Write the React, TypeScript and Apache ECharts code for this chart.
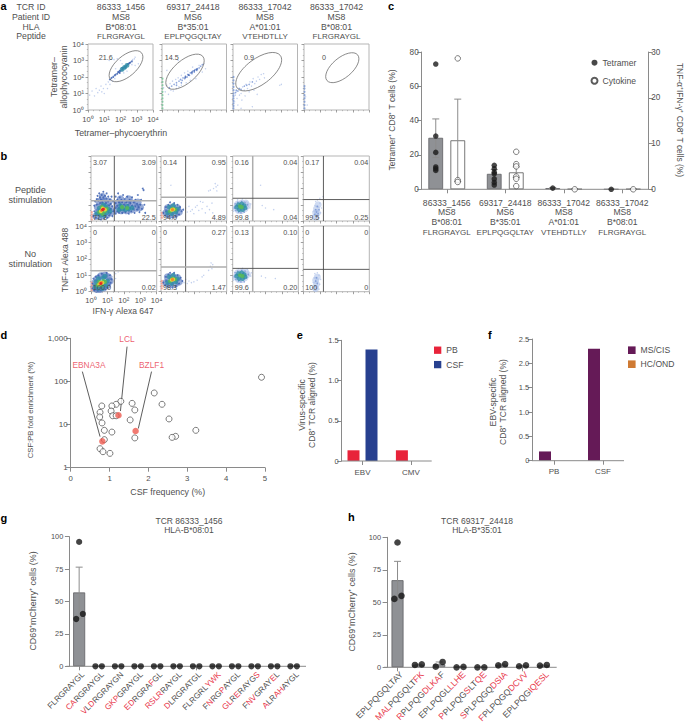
import React, { useEffect, useRef } from "react";
import * as echarts from "echarts";

type P = [number, number];
const FONT = '"Liberation Sans", Arial, Helvetica, sans-serif';
const INK = "#4f4f4f";
const AXIS = "#8a8a8a";
const RED = "#e8364a";

// ---------- panel a / b: flow cytometry (values are log10 units, read by eye)
const logTickLabels = ["10⁰", "10¹", "10²", "10³", "10⁴"];
const headerRows = ["TCR ID", "Patient ID", "HLA", "Peptide"];
const tcrIds = ["86333_1456", "69317_24418", "86333_17042", "86333_17042"];
const patientIds = ["MS8", "MS6", "MS8", "MS8"];
const hlaTypes = ["B*08:01", "B*35:01", "A*01:01", "B*08:01"];
const peptides = ["FLRGRAYGL", "EPLPQGQLTAY", "VTEHDTLLY", "FLRGRAYGL"];
const tetramerGatePct = ["21.6", "14.5", "0.9", "0"];

const a1Light: P[] = [[.1,.9],[.25,1.15],[.4,.85],[.5,1.3],[.6,1.05],[.7,1.2],[.8,1.45],[.85,1.1],[.95,1.3],[1,1],[1.1,1.55],[1.2,1.3],[1.25,1.7],[1.35,1.55],[1.4,1.85],[1.5,1.75],[1.55,2.05],[1.65,1.9],[1.3,3],[1.6,3.05],[1.8,3.1],[2,3],[1.7,2.5],[2.1,2.8],[2.85,3.1],[2.9,3.2],[2.7,2.75],[2.4,2.35],[2.9,2.7],[3.1,2.8],[2.75,3.05],[2.2,2.25]];
const a1Blue: P[] = [[1.35,1.85],[1.45,1.95],[1.55,2],[1.65,2.1],[1.7,2.15],[1.8,2.2],[1.85,2.3],[1.9,2.3],[1.95,2.38],[2,2.37],[2.1,2.45],[2.15,2.52],[2.2,2.55],[2.25,2.62],[2.3,2.63],[2.35,2.65],[2.4,2.72],[2.45,2.78],[2.5,2.8],[2.55,2.85],[2.6,2.88],[2.7,2.95],[2.1,2.55],[2.3,2.55],[1.95,2.25]];
const a1Teal: P[] = [[2.1,2.46],[2.25,2.58],[2.4,2.7]];
const a2Edge: P[] = [[.03,.1],[.03,.3],[.03,.5],[.03,.7],[.03,.9],[.03,1.1],[.03,1.3],[.03,1.5],[.03,1.7],[.03,1.9]];
const a2Light: P[] = [[.1,1.35],[.2,1.1],[.3,1.5],[.4,.95],[.5,1.6],[.55,1.2],[.65,1.75],[.7,1.15],[.85,1.85],[.9,1.3],[1,1.95],[1.05,1.4],[1.2,2.1],[1.2,1.5],[1.4,2.25],[1.5,1.65],[1.6,2.35],[1.75,1.8],[1.9,2.6],[2.1,1.9],[2.3,2.7],[2.5,2.3],[2.6,2.8],[2.7,2.5],[1,3],[.3,2.4]];
const a2Fine: P[] = [[.45,1.35],[.6,1.45],[.75,1.55],[.9,1.65],[1.05,1.75],[1.15,1.85],[1.25,1.8],[1.3,1.95],[1.4,1.9],[1.45,2.05],[1.55,2],[1.6,2.15],[1.7,2.1],[1.75,2.25],[1.85,2.2],[1.9,2.35],[2,2.3],[2.05,2.45],[2.15,2.4],[2.2,2.5],[2.3,2.55],[2.4,2.65],[2.5,2.75],[1.2,1.65],[.9,1.5]];
const a2Blue: P[] = [[1.45,1.98],[1.65,2.12],[1.85,2.28],[2,2.38],[2.15,2.46]];
const a3Edge: P[] = [[.03,.1],[.03,.25],[.03,.4],[.03,.55],[.03,.7],[.03,.85],[.03,1],[.03,1.2],[.03,1.4],[.03,1.6],[.03,1.8],[.03,2]];
const a3Light: P[] = [[.1,.5],[.15,.9],[.2,1.1],[.25,.7],[.3,.3],[.35,1.3],[.4,.9],[.5,1],[.55,.6],[.6,1.4],[.7,1.2],[.75,.85],[.8,1.55],[.9,1.3],[1,1.1],[1.05,1.7],[1.15,1.45],[1.25,1.9],[1.35,1.6],[1.45,1.75],[1.55,2],[1.65,1.85],[1.75,2.15],[1.9,2.2],[1.95,1.95],[2.9,1.5],[3,1.55],[.5,.1],[1.2,.2],[1.5,.95],[1.3,1.2]];
const a3Fine: P[] = [[.2,1.2],[.3,1.15],[.4,1.3],[.5,1.25],[.7,1.45],[.85,1.5],[1,1.55],[1.2,1.7],[.15,1.05]];
const a4Edge: P[] = [[.03,.1],[.03,.3],[.03,.5],[.03,.7],[.03,.9],[.03,1.1],[.03,1.3],[.03,1.45]];
const a4Light: P[] = [[.2,.3],[.1,.8]];

const b11Edge: P[] = [[.05,.1],[.05,.25],[.05,.4],[.05,.55]];
const b11Haze: P[] = [[.3,.3],[.45,.55],[.7,.35],[1,.4],[1.25,.55],[.4,.85],[.75,.85],[1.1,.85],[.5,1.2],[.8,1.2],[1.1,1.2],[.7,1.5],[1.55,.7],[1.85,.65],[2.15,.65],[2.45,.7],[2.75,.8],[3,.85],[1.6,1.05],[1.9,1.05],[2.2,1.05],[2.5,1.1],[2.85,1.15],[1.8,1.35],[2.3,1.35]];
const b11Blue: P[] = [[.15,.3],[.2,.6],[.2,.95],[.25,1.2],[.3,.2],[.35,1],[.35,1.35],[.4,1.55],[.45,.15],[.45,1.25],[.5,1.7],[.55,1.1],[.55,1.45],[.6,.1],[.6,1.3],[.65,1.6],[.7,1.15],[.75,1.45],[.75,1.8],[.8,.15],[.85,1.25],[.85,1.55],[.9,1.1],[.95,1.4],[.95,1.7],[1,.2],[1.05,1.2],[1.05,1.5],[1.1,.35],[1.1,.95],[1.15,1.3],[1.2,.5],[1.2,.75],[1.2,1.05],[1.25,1.5],[1.3,.3],[1.3,.9],[1.35,.6],[1.35,1.2],[1.5,.45],[1.5,.8],[1.5,1.1],[1.5,1.5],[1.6,.6],[1.6,.95],[1.6,1.3],[1.65,1.7],[1.7,.5],[1.7,.8],[1.7,1.15],[1.75,1.45],[1.8,.65],[1.8,1],[1.85,1.3],[1.9,.5],[1.9,.85],[1.9,1.15],[1.95,1.6],[2,.7],[2,1],[2.05,1.35],[2.1,.55],[2.1,.85],[2.15,1.15],[2.2,1.5],[2.25,.7],[2.25,1],[2.3,.45],[2.35,1.3],[2.4,.8],[2.4,1.1],[2.45,.6],[2.5,.95],[2.5,1.45],[2.55,.75],[2.6,1.15],[2.65,.5],[2.7,.9],[2.7,1.3],[2.8,.7],[2.8,1.05],[2.85,1.6],[2.9,.85],[2.95,.55],[3,1],[3.05,1.3],[3.1,.75],[3.2,1.9],[3.25,1],[3.3,.5],[3.15,2]];
const b11Teal: P[] = [[.35,.45],[.5,.8],[.6,.35],[.75,1],[.95,.5],[1.05,.75],[.55,.6],[.8,.35],[.9,.9],[1.15,.6],[1.7,.7],[1.9,.75],[2.1,.7],[2.3,.75],[2.5,.8],[1.8,.95],[2.2,.9]];
const b11Green: P[] = [[.5,.55],[.65,.85],[.85,.6],[.95,.75],[.7,.45],[2.2,.8],[1.9,.85]];
const b11Yellow: P[] = [[.6,.6],[.72,.78],[.85,.7]];
const b11Orange: P[] = [[.65,.65],[.78,.75]];
const b11Red: P[] = [[.7,.7],[.75,.72]];

const b12Edge: P[] = [[.05,.2],[.05,.35],[.05,.5]];
const b12Haze: P[] = [[.3,.5],[.55,.4],[.85,.4],[1.1,.55],[.4,.8],[.7,.85],[1,.8]];
const b12Light: P[] = [[1.5,.8],[1.6,.55],[1.7,.9],[1.8,.6],[1.9,.7],[2,.45],[2.1,.85],[2.2,.95],[2.3,.65],[2.4,1.2],[2.5,.75],[2.55,1.15],[2.7,.5],[2.8,.9],[2.95,.7],[3.1,1.1],[3.15,.5],[2.9,1.85],[3,1.9],[3.2,2],[3.3,2.3],[3.35,2.1],[3.4,1.85],[3.45,2.2],[.6,2.2]];
const b12Blue: P[] = [[.15,.5],[.25,.35],[.3,.85],[.4,.25],[.45,1],[.55,1.15],[.7,.2],[.8,1.1],[.9,.3],[1,1],[1.1,.4],[1.15,.85],[1.25,.6],[1.35,.7],[.3,.6]];
const b12Teal: P[] = [[.4,.5],[.5,.85],[.65,.45],[.75,.95],[.9,.55],[1,.75]];
const b12Green: P[] = [[.55,.6],[.7,.75],[.85,.7]];
const b12Yellow: P[] = [[.65,.68],[.75,.72]];
const b12Orange: P[] = [[.7,.7]];

const b13Pale: P[] = [[.2,.8],[.35,.65],[.55,.65],[.75,.75],[.9,.95],[.3,1.05],[.55,1.1],[.8,1.1]];
const b13Light: P[] = [[.05,.6],[.95,.9],[1.05,.8],[1.1,1.05],[.85,1.2],[.3,1.3],[.6,1.35],[1.7,2.2],[1.8,.95],[2,.8],[2.5,.7]];
const b13Fine: P[] = [[.1,.8],[.15,1.05],[.2,.65],[.3,1.15],[.35,.55],[.5,.5],[.55,1.2],[.7,.55],[.75,1.15],[.85,.75],[.9,1],[.15,.9]];
const b13Teal: P[] = [[.25,.85],[.35,1],[.4,.7],[.6,.7],[.7,.95],[.55,1.05],[.75,.8]];
const b13Green: P[] = [[.45,.9],[.55,.85]];

const b14Pale: P[] = [[.75,.25],[.85,.5],[.8,.75],[.9,1],[.75,.5]];
const b14Light: P[] = [[.55,.3],[.6,.6],[.65,.15],[.7,.95],[.75,1.2],[.95,.2],[1.05,.5],[1.1,.8],[1,1.1],[1,1.4],[.85,1.3],[1.2,1.5],[.7,.1]];
const b14Fine: P[] = [[.7,.4],[.75,.7],[.8,.25],[.85,.9],[.9,.45],[.95,.7],[.8,.55]];

const b21Edge: P[] = [[.05,.1],[.05,.25],[.05,.4],[.05,.55]];
const b21Haze: P[] = [[.2,.25],[.35,.15],[.55,.15],[.8,.25],[1,.4],[1.15,.65],[.25,.55],[.4,.8],[.6,.95],[.85,1],[1.05,.9]];
const b21Light: P[] = [[1.4,1.2],[1.5,1.1],[1.65,1.2],[1.3,.9],[1.5,.8]];
const b21Blue: P[] = [[.1,.2],[.1,.5],[.15,.8],[.2,.1],[.3,.9],[.4,.08],[.45,1],[.65,1.1],[.6,.08],[.85,.15],[1,.25],[1.1,.4],[1.2,.55],[1.25,.75],[1.15,1],[.95,1.15]];
const b21Teal: P[] = [[.25,.3],[.3,.6],[.45,.2],[.45,.8],[.7,.2],[.75,.85],[.9,.4],[1,.65],[.85,.95]];
const b21Green: P[] = [[.4,.4],[.5,.6],[.65,.4],[.75,.65],[.85,.6]];
const b21Yellow: P[] = [[.5,.45],[.6,.55],[.7,.55]];
const b21Orange: P[] = [[.55,.5],[.65,.55]];
const b21Red: P[] = [[.6,.5]];

const b22Edge: P[] = [[.05,.2],[.05,.35],[.05,.5],[.05,.65]];
const b22Haze: P[] = [[.3,.55],[.55,.45],[.85,.45],[1.1,.6],[.4,.9],[.7,.9],[1,.85]];
const b22Light: P[] = [[1.4,.55],[1.5,.75],[1.6,.5],[1.7,.65],[1.85,.55],[2,.6],[2.2,.7],[2.5,.9],[2.6,1],[2.9,1.3],[3,1.55],[3.05,1.75],[3.1,1.4],[3.15,1.65]];
const b22Blue: P[] = [[.15,.55],[.25,.4],[.3,.9],[.4,.3],[.45,1.05],[.55,1.15],[.7,.25],[.8,1.15],[.9,.35],[1,1],[1.1,.5],[1.2,.85],[1.3,.65],[.3,.65]];
const b22Teal: P[] = [[.4,.55],[.5,.9],[.65,.5],[.75,1],[.9,.6],[1,.8]];
const b22Green: P[] = [[.55,.65],[.7,.8],[.85,.75]];
const b22Yellow: P[] = [[.65,.72],[.75,.75]];
const b22Orange: P[] = [[.7,.74]];

const b23Pale: P[] = [[.2,.9],[.35,.75],[.55,.75],[.75,.85],[.9,1.05],[.3,1.15],[.55,1.2],[.8,1.2]];
const b23Light: P[] = [[.05,.7],[1,1],[1.1,.95],[1.15,1.15],[.9,1.35],[.35,1.4],[.6,1.42],[1.75,.95],[2,.85],[2.6,.8]];
const b23Fine: P[] = [[.1,.9],[.15,1.15],[.2,.75],[.3,1.25],[.35,.65],[.5,.6],[.55,1.3],[.7,.6],[.75,1.25],[.85,.85],[.95,1.05],[.15,1]];
const b23Teal: P[] = [[.25,.95],[.35,1.1],[.4,.8],[.6,.8],[.7,1.05],[.55,1.15],[.75,.9]];
const b23Green: P[] = [[.45,1],[.6,.95]];

const b24Pale: P[] = [[.75,.2],[.8,.45],[.75,.7],[.85,.9]];
const b24Light: P[] = [[.55,.25],[.6,.55],[.65,.1],[.65,.85],[.7,1.1],[.95,.15],[1,.45],[1.05,.75],[.95,1],[.85,1.15],[.75,.05]];
const b24Fine: P[] = [[.7,.35],[.75,.65],[.8,.2],[.85,.5],[.8,.85]];

const quadrantPeptide = [["3.07","3.09","71.3","22.5"],["0.14","0.95","94.0","4.89"],["0.16","0.04","99.8","0.04"],["0.17","0.04","99.5","0.25"]];
const quadrantNoPeptide = [["0","0","100.0","0.02"],["0","0.27","98.3","1.47"],["0.13","0.10","99.6","0.20"],["0","0","100","0"]];
const gateXPeptide = [1.42, 1.5, 1.22, 1.22];
const gateYPeptide = [1.24, 1.46, 1.4, 1.32];
const gateXNoPeptide = [1.42, 1.5, 1.22, 1.22];
const gateYNoPeptide = [1.28, 1.5, 1.42, 1.36];

// ---------- panel c
const cCategories = tcrIds.map((id, i) => [id, patientIds[i], hlaTypes[i], peptides[i]].join("\n"));
const cTetramerMean = [30, 9, 0.7, 0];
const cCytokineMean = [10.7, 3.7, 0.05, 0.05];
const cTetramerPoints = [[73, 31, 21.5, 13, 12, 11], [14, 12, 10, 9, 6, 4, 2.5], [0.7], [0]];
const cCytokinePoints = [[28.6, 2, 1.6], [8.2, 5.5, 5, 2.8, 2.3, 0.7], [0], [0]];
const cTetramerError: [number, number][] = [[18.5, 41], [6.5, 11.5], [0.4, 1], [0, 0]];
const cCytokineError: [number, number][] = [[1.7, 19.7], [2.6, 4.9], [0, 0.1], [0, 0.1]];

// ---------- panel d
const dOpen: P[] = [[4.91,125],[2.15,54],[2.35,29.5],[2.53,13.5],[3.22,7.35],[2.7,5.33],[2.61,5.05],[1.65,4.9],[1.53,12.8],[1.65,21.8],[1.58,31],[1.29,34.6],[1.17,29.5],[1.06,27],[1.04,20.6],[1.08,16],[1.17,16],[.8,27],[.755,19.2],[.746,15],[.806,10.9],[.866,7.35],[1.06,6.7],[.866,4.47],[.755,2.76],[.83,2.35],[1.01,2.15]];
const dRed: P[] = [[1.23,16.4],[1.67,7.1],[.815,4.08]];
const dCalloutNames = ["LCL", "EBNA3A", "BZLF1"];
const dCalloutAnchors: P[] = [[1.45,977],[.47,240],[2.08,240]];
const dCalloutLines: [P, P][] = [[[1.45,641],[1.28,20.6]],[[.3,169],[.755,5.25]],[[2.08,169],[1.74,8.1]]];

// ---------- panels e / f
const eCategories = ["EBV", "CMV"];
const ePB = [0.133, 0.133];
const eCSF = [1.385, 0];
const fCategories = ["PB", "CSF"];
const fMS = [0.19, 2.3];
const fHC = [0, 0];

// ---------- panels g / h
const gLabels = ["FLRGRAYGL","[CA]RGRAYGL","[V]L[D]RGRAYGN","[GKP]GRAYGL","[ED]RGRA[F]GL","[RSLR]RAYGL","[D]LRGRATGL","FLRGRL[YWK]","F[N]RG[P]AYGL","[GL]R[E]RAYG[S]","F[NV]GRAY[E]L","[A]LR[AH]AYGL"];
const gMeans = [57, 0, 0, 0, 0, 0, 0, 0, 0, 0, 0, 0];
const gPoints = [[36.5,96,40.4],[0,0],[0,0],[0,0],[0,0],[0,0],[0,0],[0,0],[0,0],[0,0],[0,0],[0,0]];
const gError: [number, number][] = [[37,76.5],[0,0],[0,0],[0,0],[0,0],[0,0],[0,0],[0,0],[0,0],[0,0],[0,0],[0,0]];
const hLabels = ["EPLPQGQLTAY","[MAL]PQGQLT[FK]","[R]PLPQG[DLKA]F","EPLPQGL[LLHE]","[P]PLPQG[S]LT[QE]","[S]PLPQGQ[DSIA]","[F]PLPQGQ[DCVV]","EPLPQG[IQESL]"];
const hMeans = [67, 2, 2.3, 0.2, 0, 2, 1.2, 1.5];
const hPoints = [[52.6,96,55],[1.8,2.3],[0.5,4.1],[0,0.3],[0,0],[1.5,2.5],[0.8,1.5],[1.3,1.8]];
const hError: [number, number][] = [[52,81.5],[1.7,2.4],[0.5,4.1],[0,0.3],[0,0],[1.5,2.5],[0.8,1.5],[1.3,1.8]];

// ---------- density layers (drawn in this order)
const layerStyle: Record<string, { color: string; size: number; opacity: number }> = {
  pale: { color: "#a8bde8", size: 7, opacity: .55 },
  haze: { color: "#4f72bd", size: 7.5, opacity: .6 },
  edgeGreen: { color: "#7cc49a", size: 2, opacity: .9 },
  edgeBlue: { color: "#7f9bd3", size: 2, opacity: .9 },
  edgeRed: { color: "#f09a8c", size: 2, opacity: .9 },
  light: { color: "#b3c4ea", size: 1.4, opacity: .8 },
  fine: { color: "#7a97d6", size: 1.6, opacity: .85 },
  blue: { color: "#3d62b2", size: 1.9, opacity: .85 },
  teal: { color: "#2f8fa6", size: 4.8, opacity: .8 },
  green: { color: "#55b85a", size: 4.2, opacity: .9 },
  yellow: { color: "#e6dc3c", size: 3.8, opacity: .95 },
  orange: { color: "#f0882c", size: 3.3, opacity: .95 },
  red: { color: "#e3262a", size: 2.8, opacity: 1 },
};
type Layers = Record<string, P[]>;
const aLayers: Layers[] = [
  { light: a1Light, blue: a1Blue, teal: a1Teal },
  { edgeGreen: a2Edge, light: a2Light, fine: a2Fine, blue: a2Blue },
  { edgeBlue: a3Edge, light: a3Light, fine: a3Fine },
  { edgeBlue: a4Edge, light: a4Light },
];
const bLayersTop: Layers[] = [
  { haze: b11Haze, edgeRed: b11Edge, blue: b11Blue, teal: b11Teal, green: b11Green, yellow: b11Yellow, orange: b11Orange, red: b11Red },
  { haze: b12Haze, edgeRed: b12Edge, light: b12Light, blue: b12Blue, teal: b12Teal, green: b12Green, yellow: b12Yellow, orange: b12Orange },
  { pale: b13Pale, light: b13Light, fine: b13Fine, teal: b13Teal, green: b13Green },
  { pale: b14Pale, light: b14Light, fine: b14Fine },
];
const bLayersBottom: Layers[] = [
  { haze: b21Haze, edgeRed: b21Edge, light: b21Light, blue: b21Blue, teal: b21Teal, green: b21Green, yellow: b21Yellow, orange: b21Orange, red: b21Red },
  { haze: b22Haze, edgeRed: b22Edge, light: b22Light, blue: b22Blue, teal: b22Teal, green: b22Green, yellow: b22Yellow, orange: b22Orange },
  { pale: b23Pale, light: b23Light, fine: b23Fine, teal: b23Teal, green: b23Green },
  { pale: b24Pale, light: b24Light, fine: b24Fine },
];

function buildOption() {
  const grid: any[] = [], xAxis: any[] = [], yAxis: any[] = [], series: any[] = [], elements: any[] = [];

  const T = (text: string, x: number, y: number, o: any = {}) => elements.push({
    type: "text", x, y, rotation: o.rot || 0, silent: true, z: 50,
    style: { text, fill: o.color || INK, fontSize: o.size || 8.5, fontFamily: FONT, fontWeight: o.weight || "normal", textAlign: o.align || "center", textVerticalAlign: "middle" },
  });
  const HLine = (x1: number, x2: number, y: number) => elements.push({
    type: "line", silent: true, z: 5, shape: { x1, x2, y1: y, y2: y }, style: { stroke: AXIS, lineWidth: 1 },
  });
  const addGrid = (l: number, t: number, w: number, h: number, extra: any = {}) => {
    grid.push({ left: l, top: t, width: w, height: h, containLabel: false, ...extra });
    return grid.length - 1;
  };
  const valueAxisY = (g: number, min: number, max: number, interval: number, extra: any = {}) => {
    yAxis.push({
      type: "value", gridIndex: g, min, max, interval,
      axisLine: { show: true, lineStyle: { color: AXIS, width: 1 } },
      axisTick: { show: true, length: 4.5, lineStyle: { color: AXIS } },
      axisLabel: { fontSize: 8.2, color: INK, fontFamily: FONT, margin: 3 },
      splitLine: { show: false }, ...extra,
    });
    return yAxis.length - 1;
  };
  const catAxisX = (g: number, data: string[], extra: any = {}) => {
    xAxis.push({
      type: "category", gridIndex: g, data,
      axisLine: { show: false },
      axisTick: { show: true, alignWithLabel: true, length: 4, lineStyle: { color: AXIS } },
      axisLabel: { fontSize: 8, color: INK, fontFamily: FONT, interval: 0, margin: 7 },
      splitLine: { show: false }, ...extra,
    });
    return xAxis.length - 1;
  };
  const hiddenX = (g: number, max: number) => {
    xAxis.push({ type: "value", gridIndex: g, min: 0, max, show: false, splitLine: { show: false } });
    return xAxis.length - 1;
  };
  const errorSeries = (xi: number, yi: number, rows: number[][], color = "#8c8c8c") => series.push({
    type: "custom", xAxisIndex: xi, yAxisIndex: yi, z: 4, silent: true, data: rows, encode: { x: 0, y: [1, 2] },
    renderItem: (_p: any, api: any) => {
      const x = api.value(0);
      const lo = api.coord([x, api.value(1)]);
      const hi = api.coord([x, api.value(2)]);
      const st = { stroke: color, lineWidth: 1 };
      const cap = (p: number[]) => ({ type: "line", shape: { x1: p[0] - 3.5, y1: p[1], x2: p[0] + 3.5, y2: p[1] }, style: st });
      return { type: "group", children: [{ type: "line", shape: { x1: lo[0], y1: lo[1], x2: hi[0], y2: hi[1] }, style: st }, cap(lo), cap(hi)] };
    },
  });

  // ---- flow plots
  const flowPlot = (l: number, t: number, w: number, h: number, layers: Layers, showX: boolean, showY: boolean) => {
    const g = addGrid(l, t, w, h, { show: true, borderColor: "#b5b5b5", borderWidth: 1, backgroundColor: "transparent" });
    const axisCommon = {
      type: "value", gridIndex: g, min: 0, max: 4, interval: 1,
      axisLine: { show: false },
      axisTick: { show: true, length: 2.5, lineStyle: { color: "#777", width: .7 } },
      minorTick: { show: true, splitNumber: 3, length: 1.2, lineStyle: { color: "#999", width: .6 } },
      splitLine: { show: false },
    };
    xAxis.push({ ...axisCommon, axisLabel: { show: showX, fontSize: 7.6, color: INK, fontFamily: FONT, margin: 5, formatter: (v: number) => logTickLabels[v] } });
    yAxis.push({ ...axisCommon, axisLabel: { show: showY, fontSize: 7.6, color: INK, fontFamily: FONT, margin: 4, formatter: (v: number) => logTickLabels[v] } });
    const xi = xAxis.length - 1, yi = yAxis.length - 1;
    Object.keys(layerStyle).forEach((k) => {
      if (!layers[k]) return;
      series.push({
        type: "scatter", xAxisIndex: xi, yAxisIndex: yi, silent: true, data: layers[k], symbolSize: layerStyle[k].size, z: 2,
        itemStyle: { color: layerStyle[k].color, borderWidth: 0, opacity: layerStyle[k].opacity },
      });
    });
    return { xi, yi };
  };
  const gateLine = (xi: number, yi: number, pts: P[], thick: boolean) => series.push({
    type: "line", xAxisIndex: xi, yAxisIndex: yi, data: pts, showSymbol: false, silent: true, z: 3,
    lineStyle: { color: thick ? "#adadad" : "#4c4c4c", width: thick ? 1.5 : .9 },
  });

  // panel a
  const aX = [88, 162, 233, 304], aW = [65, 64.5, 64.5, 65];
  const aCenters = [121, 193, 265, 336.5];
  headerRows.forEach((r, i) => T(r, 31, 7.3 + i * 9.7, { size: 8.7 }));
  aCenters.forEach((c, i) => {
    [tcrIds[i], patientIds[i], hlaTypes[i]].forEach((s, k) => T(s, c, 7.3 + k * 9.7, { size: 8.7 }));
    T(peptides[i], c, 7.3 + 3 * 9.7, { size: 8 });
    flowPlot(aX[i], 44, aW[i], 66, aLayers[i], i === 0, i === 0);
  });
  const ellipses = [[126,66.2,20.5,10.3],[185,71.7,23.5,11.2],[258.7,71.7,27,12.9],[342.3,67.7,20,10]];
  const ellipseTilt = [41, 41, 37, 40];
  ellipses.forEach((e, i) => elements.push({
    type: "ellipse", x: e[0], y: e[1], rotation: (ellipseTilt[i] * Math.PI) / 180, silent: true, z: 40,
    shape: { cx: 0, cy: 0, rx: e[2], ry: e[3] }, style: { fill: "none", stroke: "#666", lineWidth: .7 },
  }));
  const pctX = [105.7, 171.7, 249, 324];
  tetramerGatePct.forEach((s, i) => T(s, pctX[i], 57.3, { size: 7.2 }));
  T("Tetramer–", 54, 77, { rot: Math.PI / 2, size: 8.9 });
  T("allophycocyanin", 63.5, 77, { rot: Math.PI / 2, size: 8.9 });
  T("Tetramer–phycoerythrin", 121, 132.7, { size: 8.8 });

  // panel b
  const bX = [91, 161, 232.7, 303.3], bW = [65.7, 65.7, 65.6, 66];
  const bRows = [
    { top: 156, h: 65, layers: bLayersTop, gx: gateXPeptide, gy: gateYPeptide, q: quadrantPeptide },
    { top: 226, h: 65.7, layers: bLayersBottom, gx: gateXNoPeptide, gy: gateYNoPeptide, q: quadrantNoPeptide },
  ];
  bRows.forEach((row, r) => bX.forEach((x, i) => {
    const { xi, yi } = flowPlot(x, row.top, bW[i], row.h, row.layers[i], r === 1 && i === 0, r === 1 && i === 0);
    gateLine(xi, yi, [[row.gx[i], 0], [row.gx[i], 4]], i === 2);
    gateLine(xi, yi, [[0, row.gy[i]], [4, row.gy[i]]], i < 2);
    const q = row.q[i];
    T(q[0], x + 2, row.top + 6.5, { size: 7.2, align: "left" });
    T(q[1], x + bW[i] - 1, row.top + 6.5, { size: 7.2, align: "right" });
    T(q[2], x + 2, row.top + row.h - 4, { size: 7.2, align: "left" });
    T(q[3], x + bW[i] - 1, row.top + row.h - 4, { size: 7.2, align: "right" });
  }));
  [["Peptide", 190], ["stimulation", 200], ["No", 254], ["stimulation", 264]].forEach(([s, y]) => T(s as string, 30.3, y as number, { size: 9.1 }));
  T("TNF-α Alexa 488", 64.7, 260, { rot: Math.PI / 2, size: 8.5 });
  T("IFN-γ Alexa 647", 123, 311, { size: 8.5 });

  // panel c
  {
    const g = addGrid(417.5, 52, 234, 137.3);
    const xc = catAxisX(g, cCategories, {
      axisLabel: {
        color: INK, fontFamily: FONT, interval: 0, margin: 8.5, lineHeight: 9.8,
        formatter: (v: string) => {
          const parts = v.split("\n");
          return parts.map((p, i) => (i === 3 ? `{p|${p}}` : `{i|${p}}`)).join("\n");
        },
        rich: {
          i: { fontSize: 8.6, color: INK, fontFamily: FONT, lineHeight: 9.8 },
          p: { fontSize: 8, color: INK, fontFamily: FONT, lineHeight: 9.8 },
        },
      },
    });
    const xh = hiddenX(g, 4);
    const yl = valueAxisY(g, 0, 80, 20, { offset: -4.2 });
    const yr = valueAxisY(g, 0, 30, 10, { position: "right", offset: -3.2 });
    const barW = 14.7;
    series.push({ name: "Tetramer mean", type: "bar", xAxisIndex: xc, yAxisIndex: yl, data: cTetramerMean, barWidth: barW, barGap: "50%", z: 2, silent: true, itemStyle: { color: "#8f9195", borderColor: "#5f6063", borderWidth: .8 } });
    series.push({ name: "Cytokine mean", type: "bar", xAxisIndex: xc, yAxisIndex: yr, data: cCytokineMean, barWidth: barW, z: 2, silent: true, itemStyle: { color: "#fff", borderColor: "#555", borderWidth: .8 } });
    const d = 0.188;
    errorSeries(xh, yl, cTetramerError.map((e, i) => [i + .5 - d, e[0], e[1]]));
    errorSeries(xh, yr, cCytokineError.map((e, i) => [i + .5 + d, e[0], e[1]]));
    series.push({ name: "Tetramer", type: "scatter", xAxisIndex: xh, yAxisIndex: yl, symbolSize: 5.5, z: 6, silent: true, itemStyle: { color: "#1a1a1a" },
      data: cTetramerPoints.flatMap((vs, i) => vs.map((v) => [i + .5 - d, v])) });
    series.push({ name: "Cytokine", type: "scatter", xAxisIndex: xh, yAxisIndex: yr, symbolSize: 5.5, z: 6, silent: true, itemStyle: { color: "#fff", borderColor: "#333", borderWidth: .8 },
      data: cCytokinePoints.flatMap((vs, i) => vs.map((v) => [i + .5 + d, v])) });
    HLine(421.7, 648.3, 189.3);
    T("Tetramer⁺ CD8⁺ T cells (%)", 392, 120, { rot: Math.PI / 2, size: 8.5 });
    T("TNF-α⁺IFN-γ⁺ CD8⁺ T cells (%)", 680, 120, { rot: -Math.PI / 2, size: 8.4 });
  }

  // panel d
  {
    const g = addGrid(70.7, 338.3, 194.3, 129.4);
    xAxis.push({ type: "value", gridIndex: g, min: 0, max: 5, interval: 1, axisLine: { show: true, lineStyle: { color: AXIS } }, axisTick: { show: true, length: 4, lineStyle: { color: AXIS } }, axisLabel: { fontSize: 7.8, color: INK, fontFamily: FONT, margin: 7 }, splitLine: { show: false } });
    yAxis.push({ type: "log", logBase: 10, gridIndex: g, min: 1, max: 1000, axisLine: { show: true, lineStyle: { color: AXIS } }, axisTick: { show: true, length: 4.5, lineStyle: { color: AXIS } }, axisLabel: { fontSize: 8, color: INK, fontFamily: FONT, margin: 3, formatter: (v: number) => Math.round(v).toLocaleString("en-US") }, splitLine: { show: false } });
    const xi = xAxis.length - 1, yi = yAxis.length - 1;
    dCalloutLines.forEach((ln) => series.push({ type: "line", xAxisIndex: xi, yAxisIndex: yi, data: ln, showSymbol: false, silent: true, z: 3, lineStyle: { color: "#333", width: .8 } }));
    series.push({ type: "scatter", xAxisIndex: xi, yAxisIndex: yi, data: dOpen, symbolSize: 6, silent: true, z: 4, itemStyle: { color: "#fff", borderColor: "#333", borderWidth: .8 } });
    series.push({ type: "scatter", xAxisIndex: xi, yAxisIndex: yi, data: dRed, symbolSize: 6.5, silent: true, z: 5, itemStyle: { color: "#ee5a4f" } });
    series.push({
      type: "scatter", xAxisIndex: xi, yAxisIndex: yi, symbolSize: 0, silent: true, z: 6,
      data: dCalloutAnchors.map((p, i) => ({ value: p, name: dCalloutNames[i] })),
      label: { show: true, position: "inside", formatter: "{b}", color: RED, fontSize: 8.4, fontFamily: FONT },
    });
    T("CSF frequency (%)", 167.7, 492.3, { size: 8.8 });
    T("CSF:PB fold enrichment (%)", 30.3, 410, { rot: Math.PI / 2, size: 7.7 });
  }

  // panel e
  {
    const g = addGrid(338.3, 340.3, 96.8, 120.7);
    const x = catAxisX(g, eCategories, { axisLabel: { fontSize: 8, color: INK, fontFamily: FONT, margin: 7 } });
    const y = valueAxisY(g, 0, 1.5, 0.5, { offset: -3.4, axisLabel: { fontSize: 7.5, color: INK, fontFamily: FONT, margin: 3, formatter: (v: number) => (v === 0 ? "0" : v.toFixed(1)) } });
    series.push({ name: "PB", type: "bar", xAxisIndex: x, yAxisIndex: y, data: ePB, barWidth: 12, barGap: "50%", silent: true, itemStyle: { color: "#e8233a" } });
    series.push({ name: "CSF", type: "bar", xAxisIndex: x, yAxisIndex: y, data: eCSF, barWidth: 12, silent: true, itemStyle: { color: "#27408f" } });
    HLine(341.7, 431.7, 461);
    T("Virus-specific", 302, 405, { rot: Math.PI / 2, size: 8.7 });
    T("CD8⁺ TCR aligned (%)", 312, 405, { rot: Math.PI / 2, size: 8.6 });
  }

  // panel f
  {
    const g = addGrid(529.5, 339, 98, 121.7);
    const x = catAxisX(g, fCategories, { axisLabel: { fontSize: 8, color: INK, fontFamily: FONT, margin: 7 } });
    const y = valueAxisY(g, 0, 2.5, 0.5, { offset: -2.8, axisLabel: { fontSize: 7.5, color: INK, fontFamily: FONT, margin: 3, formatter: (v: number) => (v === 0 ? "0" : v.toFixed(1)) } });
    series.push({ name: "MS/CIS", type: "bar", xAxisIndex: x, yAxisIndex: y, data: fMS, barWidth: 12, barGap: "50%", silent: true, itemStyle: { color: "#651a57" } });
    series.push({ name: "HC/OND", type: "bar", xAxisIndex: x, yAxisIndex: y, data: fHC, barWidth: 12, silent: true, itemStyle: { color: "#cf7a33" } });
    HLine(532.3, 624, 460.7);
    T("EBV-specific", 493, 402, { rot: Math.PI / 2, size: 8.7 });
    T("CD8⁺ TCR aligned (%)", 503, 402, { rot: Math.PI / 2, size: 8.6 });
  }

  // panels g, h
  const plain = (s: string) => s.replace(/[\[\]]/g, "");
  const toRich = (s: string) => s.split(/(\[[^\]]+\])/).filter(Boolean).map((p) => (p[0] === "[" ? `{r|${p.slice(1, -1)}}` : `{k|${p}}`)).join("");
  const peptidePanel = (rect: number[], offset: number, lineEnd: number, labels: string[], means: number[], points: number[][], errors: [number, number][], labelSize: number, dotSize: number) => {
    const [l, t, w, h] = rect;
    const g = addGrid(l, t, w, h);
    const x = catAxisX(g, labels.map(plain), { axisLabel: { show: false } });
    const xh = hiddenX(g, labels.length);
    const y = valueAxisY(g, 0, 100, 25, { offset, axisLabel: { fontSize: 7.4, color: INK, fontFamily: FONT, margin: 3 } });
    series.push({ type: "bar", xAxisIndex: x, yAxisIndex: y, data: means, barWidth: 12, silent: true, z: 2, itemStyle: { color: "#8f9195", borderColor: "#5f6063", borderWidth: .8 } });
    errorSeries(xh, y, errors.map((e, i) => [i + .5, e[0], e[1]]));
    const jitterFor = (n: number, k: number) => (n === 3 ? [-0.15, 0, 0.19][k] : k === 0 ? -0.165 : 0.165);
    series.push({
      type: "scatter", xAxisIndex: xh, yAxisIndex: y, symbolSize: dotSize, silent: true, z: 6, itemStyle: { color: "#151515" },
      data: points.flatMap((vs, i) => vs.map((v, k) => [i + .5 + jitterFor(vs.length, k), v])),
    });
    HLine(l - offset, lineEnd, t + h);

    // The rotated labels end a few pixels to the right of their ticks, so they sit on a nudged twin axis.
    const lookup: Record<string, string> = {};
    labels.forEach((s) => { lookup[plain(s)] = toRich(s); });
    const gl = addGrid(l + 4, t, w, h);
    catAxisX(gl, labels.map(plain), {
      axisTick: { show: false },
      axisLabel: {
        interval: 0, rotate: 45, margin: 7, fontFamily: FONT,
        formatter: (v: string) => lookup[v],
        rich: { k: { color: INK, fontSize: labelSize, fontFamily: FONT }, r: { color: RED, fontSize: labelSize, fontFamily: FONT } },
      },
    });
    yAxis.push({ type: "value", gridIndex: gl, show: false, min: 0, max: 100, splitLine: { show: false } });
  };
  peptidePanel([69.4, 536.7, 234, 129.6], 3.1, 306, gLabels, gMeans, gPoints, gError, 8.1, 6.2);
  peptidePanel([387.1, 537.3, 166.7, 130], 3.1, 556.7, hLabels, hMeans, hPoints, hError, 8.7, 6.6);
  T("TCR 86333_1456", 189, 520.7, { size: 8.5 }); T("HLA-B*08:01", 189, 530, { size: 8.5 });
  T("TCR 69317_24418", 477, 520.7, { size: 8.5 }); T("HLA-B*35:01", 477, 530, { size: 8.5 });
  T("CD69⁺mCherry⁺ cells (%)", 32.7, 601, { rot: Math.PI / 2, size: 8.9 });
  T("CD69⁺mCherry⁺ cells (%)", 352, 602, { rot: Math.PI / 2, size: 8.9 });

  // panel letters
  ([["a",0.5,6],["b",0.5,155.5],["c",388,6],["d",0.5,335],["e",296.7,335],["f",488,335],["g",0.5,518],["h",348,517]] as [string,number,number][])
    .forEach(([s, x, y]) => T(s, x, y, { size: 11, weight: "bold", color: "#000", align: "left" }));

  const legendText = { fontSize: 8.6, color: INK, fontFamily: FONT };
  const legend = [
    { data: ["Tetramer", "Cytokine"], orient: "vertical", left: 590.5, top: 58.2, padding: 0, itemWidth: 6, itemHeight: 6, itemGap: 9, selectedMode: false, textStyle: legendText },
    { data: [{ name: "PB", icon: "rect" }, { name: "CSF", icon: "rect" }], orient: "vertical", left: 434, top: 345.7, padding: 0, itemWidth: 7.3, itemHeight: 7.3, itemGap: 5.4, selectedMode: false, textStyle: legendText },
    { data: [{ name: "MS/CIS", icon: "rect" }, { name: "HC/OND", icon: "rect" }], orient: "vertical", left: 628, top: 345.7, padding: 0, itemWidth: 7.6, itemHeight: 7.6, itemGap: 5, selectedMode: false, textStyle: legendText },
  ];

  return { animation: false, backgroundColor: "#fff", grid, xAxis, yAxis, series, legend, graphic: { elements } };
}

export default function App() {
  const ref = useRef<HTMLDivElement>(null);
  useEffect(() => {
    document.body.style.margin = "0";
    const chart = echarts.init(ref.current!, undefined, { renderer: "svg", width: 685, height: 725 });
    chart.setOption(buildOption() as any);
    return () => chart.dispose();
  }, []);
  return <div ref={ref} style={{ width: 685, height: 725 }} />;
}
